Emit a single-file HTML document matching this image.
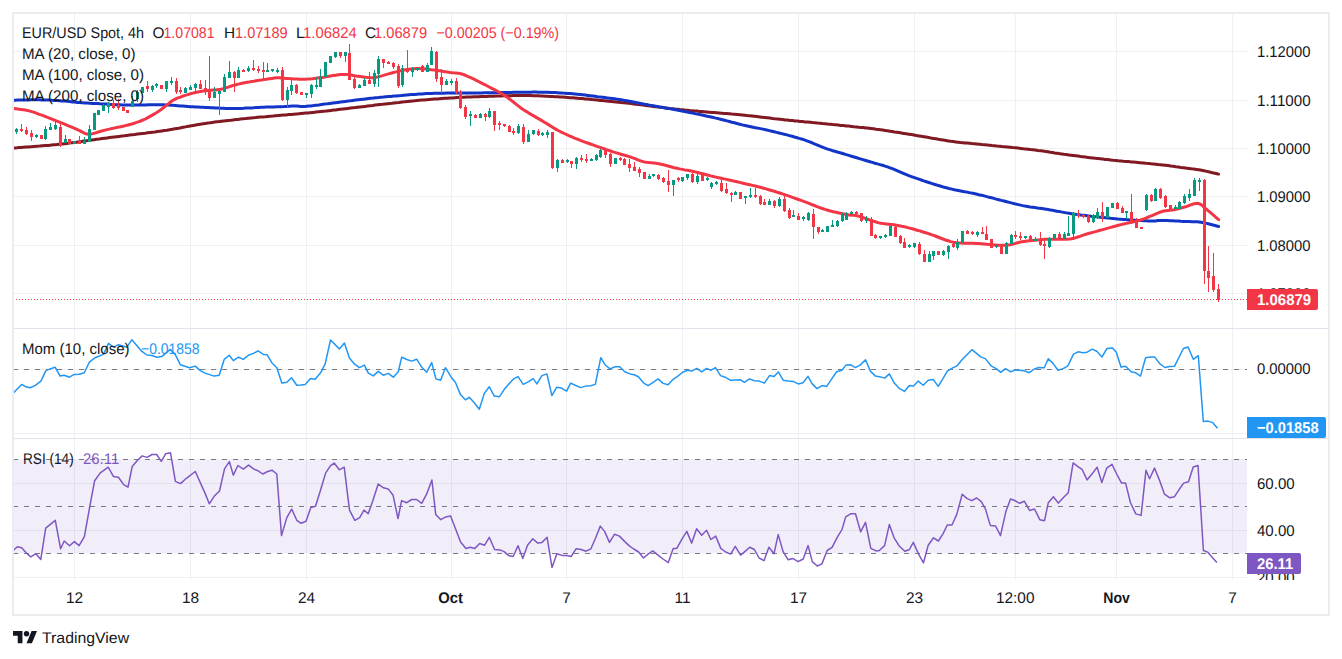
<!DOCTYPE html><html><head><meta charset="utf-8"><style>html,body{margin:0;padding:0;background:#fff;width:1342px;height:659px;overflow:hidden}svg{display:block}text{font-family:"Liberation Sans",sans-serif;text-rendering:geometricPrecision}</style></head><body>
<svg width="1342" height="659" viewBox="0 0 1342 659">
<rect width="1342" height="659" fill="#fff"/>
<path d="M74.5 14V580 M190.5 14V580 M306.5 14V580 M451.5 14V580 M566.5 14V580 M682.5 14V580 M798.5 14V580 M914.5 14V580 M1015.5 14V580 M1116.5 14V580 M1232.5 14V580 M14 51.5H1247 M14 100.5H1247 M14 148.5H1247 M14 196.5H1247 M14 245.5H1247 M14 293.5H1247 M14 369.5H1247 M14 433.5H1247 M14 483.5H1247 M14 530.5H1247 M14 577.5H1247" stroke="#eef0f2" stroke-width="1" fill="none"/>
<rect x="14" y="459" width="1233" height="94.5" fill="#7e57c2" fill-opacity="0.1"/>
<path d="M13 459.5H1247M13 506.5H1247M13 553.5H1247M13 369.5H1247" stroke="#787b86" stroke-width="1" stroke-dasharray="5 6"/>
<polyline points="13.3,393.1 21.7,384.4 25.9,386.8 30.0,387.8 35.0,385.6 40.9,381.1 45.9,370.6 50.1,368.9 55.1,367.2 60.1,376.1 64.3,375.2 69.3,377.2 74.3,374.4 79.3,374.2 84.3,372.7 89.3,362.2 95.1,357.7 103.5,354.4 108.5,343.4 113.5,347.2 118.5,344.7 126.9,347.2 131.9,339.7 141.9,351.4 146.9,355.0 151.9,355.5 156.9,357.2 161.9,356.4 170.3,349.4 175.3,354.7 180.3,364.7 189.5,367.7 195.3,366.1 200.3,370.6 205.0,373.1 214.2,376.1 219.2,375.2 224.2,359.4 229.2,355.2 233.4,360.6 238.4,357.2 243.4,359.4 248.4,355.2 253.4,353.4 258.1,350.9 263.4,354.4 267.1,354.7 271.8,362.7 276.8,367.7 281.8,383.1 286.8,382.3 291.5,377.7 296.8,385.3 301.0,385.1 305.2,384.4 310.5,378.4 315.2,379.3 321.0,372.2 325.2,363.9 330.5,340.0 339.4,348.9 344.4,343.0 349.4,358.0 354.4,363.9 359.4,367.7 364.4,365.1 368.3,373.1 373.3,375.9 378.3,371.4 383.3,375.2 388.3,373.4 393.3,377.2 398.3,371.7 401.7,357.2 407.5,359.7 411.7,361.1 416.7,359.2 421.7,367.2 426.7,372.2 431.7,362.6 435.9,378.9 440.6,380.3 445.4,367.7 450.9,376.7 455.6,382.8 460.4,394.4 465.4,399.8 469.3,397.3 474.3,402.8 479.3,409.3 484.3,393.4 489.3,386.8 494.3,396.1 499.3,396.8 504.3,389.3 509.3,383.6 513.5,378.9 518.0,376.7 523.2,384.4 528.2,381.8 533.2,378.6 536.9,383.9 541.9,375.6 546.9,373.9 551.9,395.6 556.6,387.3 561.6,388.1 566.6,391.1 570.6,383.1 575.3,385.3 580.6,387.6 585.6,386.1 590.7,385.8 595.3,384.4 600.8,357.7 605.0,364.7 610.0,368.9 615.0,366.7 619.7,366.7 624.7,371.7 630.1,373.9 634.2,374.7 638.4,376.7 643.4,382.8 648.1,385.6 653.1,382.3 658.1,378.9 663.1,383.4 668.1,384.8 673.1,379.3 677.6,376.4 682.6,372.2 687.7,370.2 691.8,371.1 696.8,368.4 701.8,371.9 706.5,368.4 711.0,370.2 715.5,367.6 720.5,375.6 725.2,377.2 730.6,380.3 735.6,380.1 740.6,379.8 744.4,382.3 749.4,378.9 754.4,380.8 759.4,381.1 764.4,383.1 769.5,375.6 774.0,376.4 778.3,371.9 783.3,380.3 788.3,381.1 793.3,381.4 798.3,383.9 803.0,382.8 808.0,376.4 812.0,383.6 817.0,388.6 822.1,385.6 826.7,386.4 831.7,378.9 836.7,371.7 841.8,370.2 845.9,365.1 850.4,364.7 855.4,367.6 860.1,365.1 865.5,359.7 870.5,371.4 875.5,376.1 880.5,376.9 884.8,378.1 889.3,373.9 894.3,383.1 899.3,388.4 904.4,391.4 909.4,385.6 913.5,385.9 918.2,381.1 923.2,385.3 928.2,380.3 933.2,379.4 938.2,386.4 942.8,378.9 947.3,371.1 952.3,368.1 956.9,365.9 962.0,359.7 967.0,354.7 972.0,349.7 980.7,356.9 985.3,358.6 991.5,366.2 996.2,368.6 1000.8,372.3 1005.5,368.6 1010.7,371.8 1015.7,369.9 1024.1,370.8 1029.3,372.7 1034.4,369.0 1039.0,367.5 1044.2,367.7 1048.3,358.7 1053.0,363.4 1058.0,370.3 1063.2,368.6 1067.9,365.8 1073.5,354.1 1078.1,351.8 1082.8,352.8 1087.1,352.2 1092.1,349.1 1096.8,351.3 1102.0,356.9 1107.0,348.5 1112.6,347.9 1116.3,352.2 1121.0,367.1 1125.6,366.2 1131.2,371.8 1135.5,372.7 1140.5,376.1 1145.6,357.8 1150.8,356.9 1154.5,356.9 1160.1,364.0 1164.8,367.5 1169.8,366.6 1174.6,366.2 1183.4,348.5 1188.0,347.0 1193.3,359.3 1198.3,355.6 1203.3,421.5 1208.2,421.1 1212.6,422.6 1217.5,428.2" fill="none" stroke="#2196f3" stroke-width="1.5" stroke-linejoin="round"/>
<polyline points="13.2,550.5 17.4,546.7 21.7,547.8 25.9,552.6 30.8,556.9 35.9,553.7 40.8,559.4 45.7,528.2 55.3,520.3 60.6,548.8 64.2,541.0 69.5,545.8 74.4,541.6 79.1,545.6 84.4,536.7 89.7,507.0 94.6,480.8 100.3,472.9 108.2,467.2 113.5,476.6 118.4,477.2 123.7,484.6 128.0,487.2 132.2,466.6 137.5,460.2 142.2,455.9 147.1,457.4 152.0,454.5 156.7,454.5 161.3,461.3 165.6,453.8 170.5,452.8 175.4,481.4 180.5,483.6 186.4,478.3 195.3,471.5 205.0,493.1 209.3,503.8 214.6,495.7 219.5,491.0 224.6,468.7 229.4,461.7 233.3,475.1 237.9,465.5 243.3,469.1 248.6,465.1 253.9,469.1 258.1,470.8 262.8,474.0 267.7,471.5 272.0,470.2 276.8,474.0 281.5,535.6 286.8,517.6 291.7,509.1 296.8,520.3 301.1,523.3 306.0,521.2 310.8,507.6 315.5,506.3 320.8,489.3 325.7,472.9 330.4,465.9 334.2,463.0 339.3,469.8 344.2,467.2 349.5,510.1 354.8,520.3 359.7,517.6 364.0,510.1 368.2,513.8 372.9,500.6 378.2,484.0 383.5,487.8 388.2,488.9 393.1,495.3 398.0,518.6 401.6,500.6 406.8,502.7 411.7,499.5 416.6,499.5 421.7,503.3 426.6,494.2 431.9,480.0 435.7,514.4 440.8,519.7 445.7,516.9 450.6,516.1 455.7,529.3 460.6,542.0 465.9,548.4 470.1,547.3 474.8,548.4 479.7,543.5 484.6,545.2 489.3,537.3 494.6,549.5 499.9,549.9 504.1,551.6 508.4,555.4 513.1,556.5 518.0,545.8 522.8,558.4 527.5,545.2 532.8,538.8 537.7,543.1 542.0,542.4 547.1,537.3 552.0,567.5 556.9,553.7 562.0,555.4 566.8,555.4 571.1,556.5 576.0,548.8 581.1,549.5 586.0,551.2 590.9,548.8 595.5,538.2 600.3,526.1 604.6,531.4 609.5,542.4 614.6,534.2 619.4,536.1 624.8,541.6 629.0,545.6 633.7,549.0 638.6,552.0 643.5,558.0 648.1,554.1 652.8,550.9 657.7,554.8 663.0,559.0 668.3,562.6 673.2,548.4 676.8,548.4 682.1,538.8 686.8,531.4 691.7,543.1 696.6,528.8 701.7,535.2 706.6,530.3 710.8,539.5 715.7,536.1 720.8,548.4 725.7,552.0 730.6,554.1 735.3,546.3 740.6,555.2 744.8,551.6 749.7,547.3 754.4,549.5 759.1,558.0 764.0,560.7 768.9,547.3 774.0,553.7 778.2,534.6 783.1,551.6 788.0,559.7 793.2,558.6 798.1,561.6 803.2,559.0 808.1,545.6 812.3,561.6 817.2,566.0 821.9,563.9 827.2,550.5 832.1,547.3 837.2,537.3 842.1,529.3 845.7,516.9 850.6,513.8 855.5,513.8 860.6,531.8 865.5,522.3 870.8,548.4 876.1,550.9 879.3,550.5 884.6,545.6 889.3,524.6 894.1,537.8 899.5,546.3 904.8,551.2 909.4,549.5 913.3,542.4 918.6,554.1 923.5,562.8 928.2,545.2 933.5,537.8 938.4,541.0 943.0,533.9 947.3,525.0 952.0,525.0 956.8,514.4 962.2,494.2 966.8,498.4 971.7,500.6 976.6,498.0 981.3,501.6 985.5,509.1 990.3,525.4 995.6,526.0 1000.5,535.6 1005.8,511.8 1010.5,499.0 1014.7,500.5 1019.6,503.3 1024.3,501.2 1029.6,510.5 1034.5,509.0 1039.8,519.7 1044.5,520.7 1048.3,502.7 1053.4,496.7 1058.3,503.1 1063.2,497.8 1068.3,492.7 1073.1,462.9 1078.0,466.6 1082.3,469.7 1087.0,479.9 1092.3,473.6 1097.1,467.2 1101.8,482.5 1106.7,468.2 1112.0,464.4 1116.7,474.0 1121.4,482.9 1125.6,483.1 1130.5,502.7 1135.8,513.9 1141.1,515.4 1146.0,470.2 1149.6,478.7 1154.5,468.1 1159.6,480.4 1164.5,494.2 1169.8,497.8 1174.5,496.7 1179.3,489.3 1183.6,483.1 1188.5,481.8 1193.2,467.0 1198.0,465.5 1203.4,550.5 1207.6,552.1 1212.3,557.5 1216.9,562.6" fill="none" stroke="#7e57c2" stroke-width="1.5" stroke-linejoin="round"/>
<polyline points="14.0,148.0 15.4,147.9 17.1,147.8 19.0,147.6 21.1,147.5 23.3,147.3 25.8,147.1 28.4,146.9 31.1,146.7 33.9,146.5 36.8,146.3 39.7,146.1 42.6,145.8 45.6,145.6 48.5,145.4 51.4,145.1 54.2,144.8 56.9,144.6 59.5,144.3 62.0,144.0 64.5,143.7 66.9,143.4 69.4,143.1 71.8,142.8 74.2,142.5 76.6,142.2 79.0,141.8 81.4,141.5 83.9,141.1 86.3,140.8 88.8,140.4 91.4,140.1 94.0,139.7 96.6,139.3 99.4,139.0 102.1,138.6 105.0,138.2 107.2,137.9 109.5,137.6 111.8,137.3 114.3,137.0 116.7,136.7 119.2,136.4 121.7,136.1 124.3,135.8 126.9,135.4 129.5,135.1 132.1,134.8 134.8,134.5 137.4,134.1 140.0,133.8 142.6,133.5 145.1,133.2 147.7,132.8 150.2,132.5 152.6,132.2 155.0,131.9 157.4,131.5 159.7,131.2 161.9,130.9 164.0,130.6 166.9,130.2 169.7,129.7 172.3,129.3 174.9,128.8 177.4,128.4 179.8,128.0 182.1,127.5 184.4,127.1 186.7,126.6 189.0,126.2 191.3,125.8 193.5,125.4 195.8,125.0 198.2,124.6 200.5,124.2 203.0,123.8 205.5,123.4 207.8,123.1 210.1,122.8 212.3,122.4 214.6,122.1 216.9,121.8 219.1,121.6 221.4,121.3 223.7,121.0 226.0,120.7 228.4,120.4 230.8,120.2 233.1,119.9 235.6,119.6 238.0,119.4 240.6,119.1 243.1,118.8 245.7,118.6 248.4,118.3 251.1,118.0 253.3,117.8 255.6,117.6 258.0,117.3 260.4,117.1 262.8,116.9 265.3,116.7 267.9,116.4 270.4,116.2 273.0,116.0 275.6,115.7 278.2,115.5 280.9,115.3 283.5,115.1 286.1,114.9 288.7,114.6 291.2,114.4 293.8,114.2 296.3,114.0 298.7,113.8 301.1,113.5 303.4,113.3 305.7,113.1 307.9,112.9 310.0,112.7 313.0,112.4 315.9,112.1 318.7,111.8 321.3,111.5 323.8,111.2 326.3,111.0 328.7,110.7 331.1,110.4 333.4,110.1 335.7,109.9 338.1,109.6 340.4,109.3 342.9,109.0 345.3,108.7 347.9,108.4 350.5,108.1 352.8,107.8 355.2,107.6 357.6,107.3 360.0,107.0 362.5,106.7 365.0,106.4 367.6,106.1 370.1,105.8 372.7,105.5 375.2,105.1 377.7,104.8 380.2,104.5 382.6,104.3 385.1,104.0 387.4,103.7 389.7,103.4 391.9,103.2 394.1,102.9 396.1,102.7 399.2,102.4 402.1,102.0 404.8,101.8 407.4,101.5 409.9,101.2 412.4,101.0 414.7,100.8 417.1,100.5 419.4,100.3 421.7,100.1 424.1,99.9 426.5,99.7 429.2,99.5 431.8,99.3 434.3,99.1 436.9,98.9 439.4,98.7 442.0,98.5 444.5,98.3 447.1,98.2 449.7,98.0 452.3,97.9 455.0,97.7 457.3,97.6 459.6,97.5 461.9,97.3 464.3,97.2 466.6,97.1 469.0,97.0 471.4,96.9 473.8,96.8 476.3,96.7 478.8,96.7 481.3,96.6 483.8,96.5 486.4,96.4 488.7,96.3 491.1,96.2 493.5,96.2 496.0,96.1 498.5,96.0 501.0,95.9 503.6,95.8 506.1,95.8 508.7,95.7 511.2,95.7 513.6,95.6 516.0,95.6 518.4,95.5 520.6,95.5 522.8,95.5 525.6,95.5 528.3,95.5 530.9,95.6 533.4,95.7 535.8,95.7 538.2,95.8 540.6,95.9 542.9,96.0 545.3,96.2 547.7,96.3 550.1,96.4 552.6,96.5 555.1,96.7 557.7,96.8 560.2,97.0 562.8,97.1 565.3,97.3 567.8,97.5 570.3,97.7 572.7,97.8 575.1,98.0 577.4,98.2 580.1,98.4 582.6,98.6 585.0,98.9 587.3,99.1 589.6,99.3 592.0,99.6 594.5,99.8 597.1,100.1 600.0,100.4 602.1,100.6 604.3,100.8 606.5,101.0 608.8,101.3 611.2,101.5 613.6,101.7 616.1,102.0 618.6,102.2 621.1,102.5 623.6,102.7 626.2,103.0 628.8,103.3 631.4,103.6 633.7,103.9 636.0,104.2 638.4,104.4 640.7,104.8 643.2,105.1 645.6,105.4 648.1,105.7 650.5,106.0 653.0,106.4 655.5,106.7 658.0,107.0 660.4,107.3 662.9,107.6 665.4,107.9 667.8,108.2 670.2,108.5 672.7,108.7 675.1,109.0 677.5,109.2 680.0,109.5 682.4,109.7 684.8,110.0 687.3,110.2 689.7,110.5 692.1,110.7 694.5,110.9 697.0,111.1 699.4,111.4 701.8,111.6 704.2,111.8 706.8,112.0 709.3,112.2 711.8,112.4 714.3,112.6 716.8,112.8 719.2,113.0 721.7,113.2 724.2,113.4 726.7,113.5 729.3,113.7 731.9,114.0 734.5,114.2 737.2,114.4 740.0,114.7 742.3,114.9 744.7,115.2 747.1,115.5 749.5,115.7 752.0,116.0 754.5,116.3 757.0,116.6 759.6,116.9 762.1,117.2 764.7,117.5 767.2,117.8 769.8,118.1 772.4,118.5 774.9,118.8 777.5,119.0 780.0,119.3 782.5,119.6 785.0,119.9 787.5,120.1 790.0,120.4 792.5,120.6 795.0,120.9 797.5,121.1 800.0,121.4 802.5,121.6 805.0,121.9 807.5,122.1 810.0,122.3 812.5,122.6 815.0,122.8 817.5,123.1 820.0,123.3 822.5,123.6 825.0,123.8 827.5,124.1 830.1,124.3 832.8,124.6 835.4,124.8 838.1,125.1 840.8,125.4 843.5,125.6 846.2,125.9 848.8,126.1 851.4,126.4 854.0,126.7 856.5,126.9 858.9,127.2 861.2,127.4 863.4,127.6 865.5,127.9 867.5,128.1 870.8,128.5 873.7,128.8 876.2,129.2 878.5,129.5 880.6,129.8 882.8,130.1 884.9,130.4 887.3,130.8 890.0,131.2 892.2,131.5 894.4,131.9 896.7,132.2 899.0,132.6 901.4,133.0 903.8,133.4 906.3,133.8 908.8,134.2 911.3,134.6 913.9,135.0 916.5,135.5 919.1,135.9 921.4,136.3 923.7,136.7 926.1,137.1 928.5,137.5 930.9,138.0 933.4,138.4 935.9,138.8 938.4,139.3 940.9,139.7 943.4,140.1 945.9,140.5 948.4,140.9 950.8,141.3 953.3,141.6 955.7,141.9 958.1,142.2 960.4,142.5 962.7,142.7 964.9,142.9 967.2,143.1 969.5,143.3 971.8,143.6 974.2,143.8 976.7,144.0 979.2,144.2 981.8,144.5 984.5,144.7 987.4,145.0 989.6,145.2 991.9,145.5 994.3,145.7 996.8,146.0 999.4,146.2 1002.0,146.5 1004.6,146.7 1007.3,147.0 1010.0,147.3 1012.7,147.6 1015.4,147.8 1018.1,148.1 1020.7,148.4 1023.3,148.7 1025.8,148.9 1028.2,149.2 1030.6,149.5 1032.9,149.7 1035.0,150.0 1037.9,150.4 1040.7,150.7 1043.2,151.1 1045.7,151.4 1048.0,151.8 1050.3,152.2 1052.5,152.5 1054.7,152.9 1056.9,153.2 1059.1,153.6 1061.5,153.9 1063.9,154.3 1066.4,154.6 1068.7,154.9 1071.0,155.2 1073.3,155.5 1075.7,155.8 1078.1,156.1 1080.6,156.5 1083.0,156.8 1085.5,157.1 1087.9,157.4 1090.4,157.7 1092.9,158.0 1095.4,158.3 1097.9,158.5 1100.3,158.8 1102.8,159.1 1105.3,159.4 1107.8,159.6 1110.4,159.9 1113.0,160.2 1115.7,160.4 1118.3,160.7 1120.9,160.9 1123.5,161.2 1126.1,161.4 1128.6,161.6 1131.1,161.9 1133.5,162.1 1135.8,162.3 1137.9,162.5 1140.0,162.7 1143.2,163.0 1146.0,163.3 1148.7,163.5 1151.1,163.8 1153.5,164.0 1155.7,164.2 1158.0,164.5 1160.3,164.7 1162.8,165.0 1165.4,165.3 1168.0,165.6 1170.7,166.0 1173.3,166.3 1175.9,166.7 1178.5,167.0 1181.0,167.4 1183.4,167.7 1185.6,168.0 1188.6,168.4 1191.4,168.8 1193.9,169.1 1196.4,169.4 1198.9,169.8 1201.5,170.3 1204.0,170.8 1206.8,171.4 1209.6,172.0 1212.4,172.7 1214.9,173.2 1217.0,173.7 1218.6,174.1" fill="none" stroke="#801922" stroke-width="3" stroke-linejoin="round" stroke-linecap="round"/>
<polyline points="14.0,100.2 15.5,100.2 17.5,100.1 19.9,100.0 22.6,100.0 25.4,99.9 28.4,99.9 31.3,99.8 34.1,99.8 36.8,99.8 39.3,99.8 41.8,99.9 44.4,100.0 46.9,100.0 49.4,100.1 51.9,100.3 54.5,100.4 57.0,100.5 59.5,100.7 62.0,100.9 64.6,101.1 67.1,101.3 69.6,101.6 72.2,101.9 74.7,102.1 77.2,102.4 79.8,102.6 82.3,102.8 84.8,103.0 87.3,103.1 89.9,103.3 92.4,103.4 94.9,103.5 97.4,103.6 99.9,103.8 102.5,103.9 105.0,104.0 107.5,104.1 109.9,104.3 112.3,104.4 114.7,104.6 117.1,104.7 119.6,104.8 122.2,105.0 125.0,105.0 127.9,105.1 130.1,105.1 132.5,105.1 135.0,105.1 137.7,105.0 140.3,105.0 143.1,104.9 145.8,104.9 148.5,104.8 151.1,104.8 153.6,104.7 155.9,104.7 158.1,104.7 160.0,104.7 163.5,104.8 166.3,104.9 168.7,105.0 170.8,105.2 172.9,105.3 175.2,105.5 177.7,105.7 180.3,105.9 182.8,106.1 185.3,106.3 187.9,106.5 190.4,106.7 192.9,106.8 195.4,107.0 198.0,107.1 200.5,107.2 203.0,107.3 205.5,107.4 208.0,107.5 210.6,107.7 213.1,107.8 215.6,108.0 218.2,108.1 220.7,108.2 223.2,108.3 225.8,108.4 228.3,108.4 230.8,108.5 233.4,108.5 235.9,108.5 238.4,108.5 241.0,108.4 243.5,108.3 246.0,108.1 248.6,108.0 251.1,107.9 253.6,107.8 256.2,107.6 258.7,107.5 261.2,107.3 263.8,107.2 266.3,107.1 268.8,107.0 271.4,107.0 273.9,106.9 276.4,106.8 279.0,106.8 281.5,106.7 284.1,106.6 286.8,106.4 289.5,106.2 292.1,106.1 294.5,106.0 296.6,105.9 299.1,106.2 300.8,106.6 305.0,106.5 306.8,106.3 308.8,106.1 311.1,105.9 313.5,105.6 316.1,105.2 318.8,104.9 321.6,104.5 324.5,104.1 327.3,103.8 330.1,103.4 332.8,103.0 335.4,102.7 337.9,102.4 340.5,102.1 343.0,101.7 345.5,101.4 348.0,101.1 350.5,100.8 353.1,100.4 355.6,100.1 358.1,99.8 360.6,99.5 363.2,99.2 365.7,98.9 368.2,98.6 370.8,98.3 373.3,98.1 375.8,97.8 378.4,97.6 380.9,97.3 383.4,97.1 386.0,96.8 388.5,96.6 391.0,96.4 393.6,96.1 396.1,95.9 398.7,95.7 401.2,95.5 403.9,95.2 406.5,95.0 409.1,94.8 411.7,94.6 414.3,94.4 416.9,94.2 419.4,94.0 421.8,93.9 424.2,93.7 426.5,93.6 429.3,93.5 431.9,93.4 434.4,93.3 436.7,93.2 439.0,93.2 441.5,93.2 444.0,93.2 446.9,93.1 450.0,93.1 452.1,93.1 454.2,93.1 456.5,93.0 458.8,93.0 461.2,93.0 463.6,93.0 466.1,93.0 468.7,92.9 471.2,92.9 473.8,92.9 476.4,92.9 478.9,92.9 481.4,92.9 483.9,92.8 486.4,92.8 488.8,92.8 491.3,92.7 493.8,92.7 496.3,92.6 498.9,92.6 501.4,92.5 503.9,92.5 506.4,92.4 508.9,92.4 511.3,92.4 513.7,92.3 516.1,92.3 518.4,92.2 520.6,92.2 522.8,92.2 525.6,92.2 528.3,92.2 530.9,92.2 533.4,92.1 535.8,92.1 538.2,92.2 540.6,92.2 542.9,92.2 545.3,92.3 547.7,92.3 550.1,92.4 552.6,92.5 555.1,92.6 557.7,92.7 560.2,92.9 562.8,93.1 565.3,93.2 567.8,93.4 570.3,93.6 572.7,93.8 575.1,94.0 577.4,94.2 580.1,94.5 582.7,94.8 585.3,95.1 587.8,95.4 590.2,95.7 592.7,96.0 595.1,96.3 597.5,96.7 600.0,97.0 602.5,97.3 604.9,97.6 607.3,97.9 609.7,98.2 612.1,98.5 614.5,98.8 617.0,99.2 619.6,99.6 622.3,100.0 624.6,100.4 627.0,100.8 629.4,101.2 631.9,101.7 634.4,102.2 636.9,102.7 639.5,103.2 642.0,103.7 644.6,104.2 647.1,104.6 649.6,105.1 652.1,105.6 654.6,106.0 657.0,106.4 659.5,106.9 662.0,107.3 664.5,107.7 667.0,108.2 669.5,108.6 671.9,109.1 674.4,109.5 676.9,110.0 679.4,110.5 682.0,111.0 684.6,111.5 687.2,112.0 689.8,112.5 692.4,113.1 694.9,113.6 697.4,114.1 699.8,114.6 702.1,115.0 704.2,115.5 707.2,116.2 709.9,116.7 712.4,117.3 714.8,117.9 717.1,118.4 719.6,119.0 722.4,119.7 724.7,120.3 727.0,120.9 729.4,121.5 731.9,122.2 734.4,122.8 737.0,123.5 739.6,124.2 742.3,124.9 745.0,125.5 747.3,126.0 749.6,126.5 751.9,127.0 754.3,127.5 756.7,127.9 759.1,128.4 761.6,128.9 764.1,129.4 766.7,130.0 769.3,130.6 771.9,131.2 774.2,131.8 776.6,132.4 779.1,133.0 781.7,133.6 784.3,134.3 786.9,134.9 789.4,135.6 792.0,136.3 794.5,137.0 797.0,137.7 799.3,138.4 801.6,139.0 803.7,139.7 806.9,140.8 809.8,141.9 812.5,143.0 815.0,144.1 817.5,145.2 819.9,146.2 822.4,147.2 825.0,148.2 827.7,149.1 830.3,149.9 833.0,150.8 835.6,151.5 838.2,152.3 840.9,153.0 843.5,153.8 846.2,154.6 848.8,155.4 851.5,156.2 854.1,157.0 856.8,157.8 859.4,158.6 862.1,159.4 864.8,160.2 867.5,161.0 869.9,161.7 872.4,162.4 874.9,163.2 877.4,163.9 879.9,164.6 882.5,165.3 885.0,166.1 887.5,166.9 890.0,167.8 892.4,168.7 894.7,169.6 897.0,170.6 899.3,171.6 901.6,172.6 904.0,173.6 906.5,174.7 909.3,175.8 912.3,176.9 914.4,177.6 916.6,178.4 918.9,179.2 921.3,180.0 923.8,180.9 926.4,181.7 928.9,182.5 931.5,183.4 934.1,184.2 936.7,185.0 939.3,185.7 941.8,186.5 944.2,187.2 946.5,187.8 949.1,188.5 951.8,189.1 954.4,189.7 957.0,190.2 959.5,190.7 962.0,191.2 964.5,191.7 966.9,192.1 969.3,192.6 971.6,193.1 973.9,193.5 976.1,194.0 978.9,194.7 981.6,195.3 984.2,195.9 986.7,196.6 989.1,197.2 991.5,197.8 993.9,198.4 996.3,199.1 998.8,199.7 1001.4,200.4 1004.0,201.0 1006.7,201.7 1009.4,202.4 1012.1,203.1 1014.7,203.8 1017.2,204.4 1019.5,204.9 1021.6,205.4 1024.9,206.1 1027.6,206.5 1030.1,206.9 1032.5,207.2 1035.0,207.6 1037.4,208.0 1039.6,208.3 1041.9,208.6 1044.7,209.0 1048.2,209.6 1050.2,209.9 1052.3,210.3 1054.6,210.7 1057.1,211.2 1059.7,211.6 1062.3,212.1 1065.0,212.6 1067.7,213.1 1070.3,213.5 1073.0,213.9 1075.5,214.3 1078.0,214.6 1080.6,215.0 1083.2,215.3 1085.8,215.6 1088.4,215.9 1091.0,216.2 1093.5,216.4 1096.0,216.7 1098.4,216.9 1100.7,217.2 1102.8,217.4 1105.8,217.7 1108.3,218.0 1110.7,218.3 1112.9,218.5 1115.3,218.7 1117.9,219.0 1121.0,219.2 1123.1,219.4 1125.4,219.5 1127.9,219.7 1130.5,219.9 1133.1,220.1 1135.8,220.2 1138.5,220.4 1141.1,220.6 1143.6,220.7 1146.0,220.8 1148.1,220.9 1150.0,221.0 1153.4,221.0 1155.8,220.9 1157.7,220.6 1159.9,220.4 1162.8,220.4 1164.9,220.5 1167.4,220.5 1170.0,220.7 1172.8,220.8 1175.5,221.0 1178.3,221.1 1181.0,221.3 1183.4,221.4 1185.6,221.5 1189.0,221.6 1191.9,221.7 1194.5,221.7 1196.9,221.8 1199.2,222.0 1202.5,222.5 1205.3,223.1 1208.3,223.8 1211.0,224.5 1214.0,225.3 1216.7,226.0 1218.6,226.5" fill="none" stroke="#1235c8" stroke-width="3" stroke-linejoin="round" stroke-linecap="round"/>
<polyline points="14.0,108.6 15.7,108.8 17.9,109.1 20.7,109.4 23.6,109.8 26.5,110.3 29.2,110.9 31.7,111.6 34.3,112.4 36.8,113.3 39.3,114.3 41.9,115.2 44.4,116.2 46.9,117.2 49.4,118.1 52.0,119.2 54.5,120.2 57.0,121.2 59.5,122.2 62.1,123.2 64.7,124.2 67.3,125.3 69.9,126.3 72.3,127.3 74.7,128.3 77.4,129.6 80.1,130.9 82.6,132.2 84.9,133.3 86.9,134.1 90.0,134.4 93.0,133.6 94.8,133.1 96.9,132.5 99.1,131.8 101.8,131.0 105.0,130.1 107.1,129.6 109.5,129.1 112.1,128.5 114.9,127.9 117.7,127.3 120.4,126.8 123.1,126.2 125.6,125.6 127.9,125.0 130.9,124.2 133.5,123.5 135.9,122.7 138.2,121.9 140.6,121.0 143.0,120.0 145.6,118.8 148.3,117.4 151.0,115.9 153.6,114.4 156.0,113.0 158.2,111.6 161.8,109.0 164.8,106.6 167.6,104.4 170.0,102.5 172.2,100.8 175.2,99.1 177.3,98.2 179.7,97.3 182.3,96.3 185.1,95.4 187.8,94.6 190.4,93.8 192.9,93.1 195.4,92.5 198.0,92.0 200.5,91.5 203.0,91.1 205.5,90.7 208.0,90.4 210.6,90.2 213.1,90.0 215.6,89.9 218.2,89.6 220.7,89.2 223.2,88.6 225.8,87.9 228.3,87.1 230.8,86.2 233.4,85.4 235.9,84.7 238.4,84.1 241.0,83.5 243.5,83.0 246.0,82.5 248.6,82.1 251.1,81.6 253.7,81.2 256.3,80.7 259.0,80.3 261.6,80.0 264.0,79.6 266.3,79.3 269.2,78.8 271.8,78.4 274.3,78.0 276.9,77.8 279.2,77.8 281.4,78.0 283.8,78.2 286.3,78.4 289.0,78.6 291.5,78.7 294.1,78.9 296.8,79.0 299.6,79.2 302.3,79.2 305.0,79.2 307.5,79.1 309.8,78.9 312.2,78.7 314.6,78.4 317.2,78.1 320.2,77.7 322.4,77.4 324.9,77.0 327.5,76.5 330.2,76.1 333.0,75.6 335.7,75.2 338.3,74.8 340.8,74.6 343.0,74.4 346.0,74.4 348.6,74.6 351.0,75.0 353.3,75.4 355.7,75.9 358.1,76.2 360.6,76.5 363.2,76.9 365.7,77.3 368.2,77.6 370.8,77.8 373.3,77.7 375.8,77.4 378.4,76.8 380.9,76.1 383.4,75.4 386.0,74.6 388.5,73.9 391.0,73.2 393.6,72.5 396.1,71.9 398.6,71.2 401.2,70.6 403.7,70.1 406.2,69.7 408.8,69.3 411.3,69.0 413.8,68.8 416.4,68.6 418.9,68.6 421.4,68.7 423.9,68.8 426.4,69.1 428.9,69.4 431.4,69.8 434.0,70.1 436.7,70.4 439.5,70.8 442.3,71.3 445.0,71.7 447.6,72.1 450.0,72.4 453.1,72.7 455.8,72.9 458.3,73.2 460.9,73.7 463.5,74.5 466.1,75.6 468.8,76.8 471.8,78.2 474.0,79.2 476.3,80.3 478.6,81.5 481.1,82.8 483.7,84.1 486.4,85.5 488.8,86.8 491.3,88.1 493.9,89.4 496.6,90.8 499.3,92.3 502.0,93.9 504.6,95.5 507.2,97.3 509.8,99.2 512.4,101.3 515.0,103.3 517.6,105.4 520.2,107.4 522.8,109.2 525.4,110.9 528.0,112.5 530.6,114.1 533.2,115.6 535.8,117.1 538.4,118.6 541.0,120.1 543.6,121.7 546.2,123.3 548.8,124.9 551.4,126.5 554.0,128.1 556.6,129.6 559.2,131.0 561.8,132.3 564.3,133.5 566.8,134.7 569.3,135.8 571.9,136.9 574.6,138.1 577.4,139.2 579.8,140.1 582.3,141.1 585.0,142.1 587.7,143.0 590.4,144.0 593.0,144.9 595.5,145.8 597.9,146.7 600.0,147.4 603.2,148.5 605.7,149.4 608.0,150.2 610.4,151.0 613.2,151.9 615.6,152.6 618.2,153.4 620.9,154.2 623.7,155.0 626.4,155.8 629.0,156.6 631.4,157.3 634.3,158.3 636.8,159.3 639.2,160.3 641.6,161.2 644.2,161.9 646.5,162.3 648.8,162.6 651.1,162.8 653.5,163.0 656.0,163.3 658.7,163.7 661.1,164.2 663.6,164.8 666.2,165.5 668.9,166.3 671.6,167.0 674.3,167.7 676.9,168.3 679.5,168.9 682.1,169.4 684.7,169.9 687.3,170.3 689.9,170.8 692.5,171.3 695.1,171.9 697.7,172.5 700.3,173.2 702.9,173.8 705.5,174.5 708.1,175.2 710.7,175.9 713.3,176.5 715.9,177.1 718.6,177.7 721.3,178.3 724.0,178.9 726.6,179.4 729.1,180.0 731.5,180.5 734.5,181.2 737.1,181.8 739.6,182.4 742.2,183.0 745.0,183.7 747.5,184.3 750.0,184.8 752.6,185.4 755.3,186.0 758.2,186.7 761.2,187.5 763.6,188.2 766.2,188.9 768.8,189.7 771.5,190.5 774.3,191.3 777.1,192.2 779.8,193.0 782.5,193.9 785.2,194.8 787.8,195.7 790.5,196.6 793.1,197.6 795.7,198.5 798.4,199.5 801.0,200.4 803.7,201.4 806.4,202.4 809.0,203.4 811.7,204.5 814.4,205.5 817.0,206.6 819.7,207.6 822.3,208.5 825.0,209.4 827.7,210.2 830.5,211.0 833.3,211.7 836.1,212.3 838.9,213.0 841.5,213.5 844.0,214.0 846.2,214.5 849.2,215.0 851.6,215.2 853.8,215.3 856.2,215.6 859.0,216.2 861.4,216.9 864.0,217.8 866.8,218.8 869.6,219.9 872.5,220.9 875.4,221.8 878.1,222.6 880.8,223.2 883.5,223.6 886.1,223.9 888.8,224.2 891.4,224.5 893.9,224.8 896.4,225.2 899.2,225.7 901.8,226.3 904.4,226.8 906.9,227.4 909.5,228.1 912.3,228.8 914.7,229.5 917.2,230.2 919.7,230.9 922.3,231.7 924.9,232.5 927.6,233.4 930.5,234.3 932.8,235.1 935.3,236.0 937.8,237.0 940.3,238.0 942.9,239.0 945.5,240.0 948.1,240.8 950.7,241.6 953.3,242.2 955.8,242.6 958.4,242.9 960.9,243.1 963.4,243.2 966.0,243.2 968.5,243.2 971.0,243.2 973.6,243.3 976.1,243.4 978.7,243.6 981.4,243.8 984.1,244.0 986.8,244.3 989.5,244.5 992.1,244.7 994.5,244.9 996.8,245.1 998.8,245.2 1002.4,245.3 1005.2,245.2 1007.6,245.0 1010.2,244.7 1013.0,244.1 1015.8,243.3 1018.6,242.5 1021.6,241.8 1024.2,241.4 1026.8,241.0 1029.6,240.7 1032.3,240.5 1035.0,240.2 1037.6,239.9 1040.1,239.7 1042.6,239.5 1045.2,239.3 1048.2,239.2 1050.6,239.2 1053.4,239.2 1056.2,239.2 1059.1,239.2 1061.8,239.2 1064.3,239.2 1066.4,239.2 1069.5,239.1 1071.4,238.8 1073.7,238.3 1076.0,237.6 1078.5,236.8 1081.3,235.8 1084.6,234.7 1086.8,234.0 1089.3,233.3 1091.9,232.6 1094.6,231.9 1097.4,231.1 1100.1,230.3 1102.8,229.6 1105.4,228.9 1108.0,228.1 1110.6,227.4 1113.2,226.7 1115.8,226.0 1118.4,225.3 1121.0,224.6 1123.7,224.0 1126.4,223.4 1129.1,222.8 1131.8,222.2 1134.4,221.6 1136.9,221.0 1139.2,220.4 1142.0,219.5 1144.6,218.6 1146.9,217.7 1149.1,216.7 1151.4,215.8 1154.3,214.6 1157.2,213.4 1160.0,212.2 1162.8,211.3 1165.6,210.7 1168.5,210.4 1171.3,210.1 1174.2,209.7 1177.0,209.1 1179.8,208.3 1182.7,207.5 1185.6,206.7 1188.1,205.9 1190.7,204.9 1193.4,204.0 1195.9,203.4 1198.1,203.3 1201.1,204.5 1203.7,206.8 1206.1,209.0 1209.6,211.9 1212.9,214.7 1216.2,217.6 1218.6,219.7" fill="none" stroke="#f23645" stroke-width="3" stroke-linejoin="round" stroke-linecap="round"/>
<path d="M16 128h1V134h-1Z M15 129h3V132h-3Z M36 134h1V138h-1Z M35 135h3V137h-3Z M45 126h1V140h-1Z M44 129h3V139h-3Z M50 123h1V130h-1Z M49 127h3V130h-3Z M55 121h1V130h-1Z M54 125h3V129h-3Z M65 135h1V143h-1Z M64 139h3V143h-3Z M74 141h1V144h-1Z M73 141h3V144h-3Z M84 137h1V144h-1Z M83 141h3V144h-3Z M89 125h1V142h-1Z M88 129h3V142h-3Z M94 113h1V130h-1Z M93 113h3V130h-3Z M98 110h1V115h-1Z M97 110h3V115h-3Z M103 104h1V111h-1Z M102 105h3V111h-3Z M108 102h1V113h-1Z M107 103h3V107h-3Z M132 96h1V107h-1Z M131 101h3V107h-3Z M137 90h1V102h-1Z M136 92h3V99h-3Z M142 87h1V93h-1Z M141 87h3V93h-3Z M152 85h1V92h-1Z M151 86h3V90h-3Z M156 83h1V88h-1Z M155 84h3V86h-3Z M166 81h1V92h-1Z M165 81h3V89h-3Z M171 77h1V85h-1Z M170 81h3V83h-3Z M185 87h1V93h-1Z M184 88h3V93h-3Z M190 85h1V90h-1Z M189 87h3V90h-3Z M195 83h1V92h-1Z M194 84h3V88h-3Z M214 87h1V98h-1Z M213 92h3V98h-3Z M219 90h1V115h-1Z M218 91h3V94h-3Z M224 74h1V92h-1Z M223 77h3V92h-3Z M229 61h1V78h-1Z M228 72h3V78h-3Z M238 67h1V78h-1Z M237 70h3V78h-3Z M248 66h1V72h-1Z M247 68h3V71h-3Z M267 63h1V72h-1Z M266 70h3V72h-3Z M272 69h1V72h-1Z M271 69h3V71h-3Z M277 68h1V73h-1Z M276 70h3V72h-3Z M287 87h1V108h-1Z M286 90h3V100h-3Z M291 79h1V95h-1Z M290 85h3V91h-3Z M306 93h1V98h-1Z M305 93h3V95h-3Z M311 84h1V98h-1Z M310 85h3V94h-3Z M316 77h1V89h-1Z M315 85h3V87h-3Z M320 69h1V87h-1Z M319 76h3V87h-3Z M325 62h1V77h-1Z M324 62h3V77h-3Z M330 56h1V63h-1Z M329 56h3V63h-3Z M335 52h1V58h-1Z M334 52h3V57h-3Z M345 52h1V62h-1Z M344 52h3V56h-3Z M359 84h1V88h-1Z M358 85h3V88h-3Z M364 78h1V86h-1Z M363 80h3V86h-3Z M374 70h1V87h-1Z M373 73h3V84h-3Z M378 56h1V87h-1Z M377 59h3V74h-3Z M402 65h1V87h-1Z M401 68h3V85h-3Z M412 67h1V77h-1Z M411 68h3V72h-3Z M417 67h1V71h-1Z M416 68h3V70h-3Z M427 63h1V72h-1Z M426 65h3V72h-3Z M431 47h1V65h-1Z M430 51h3V65h-3Z M446 79h1V85h-1Z M445 81h3V85h-3Z M451 79h1V85h-1Z M450 81h3V83h-3Z M470 111h1V126h-1Z M469 114h3V116h-3Z M480 113h1V118h-1Z M479 114h3V118h-3Z M489 108h1V118h-1Z M488 111h3V117h-3Z M518 124h1V134h-1Z M517 126h3V133h-3Z M528 130h1V142h-1Z M527 134h3V142h-3Z M533 130h1V135h-1Z M532 130h3V134h-3Z M542 132h1V136h-1Z M541 133h3V135h-3Z M547 130h1V138h-1Z M546 132h3V135h-3Z M557 159h1V172h-1Z M556 160h3V168h-3Z M567 159h1V163h-1Z M566 160h3V162h-3Z M576 157h1V169h-1Z M575 158h3V164h-3Z M591 158h1V161h-1Z M590 159h3V161h-3Z M596 154h1V161h-1Z M595 155h3V160h-3Z M600 149h1V158h-1Z M599 150h3V157h-3Z M615 158h1V164h-1Z M614 158h3V164h-3Z M649 174h1V179h-1Z M648 176h3V179h-3Z M653 174h1V177h-1Z M652 174h3V176h-3Z M673 180h1V196h-1Z M672 180h3V185h-3Z M682 177h1V182h-1Z M681 177h3V181h-3Z M687 174h1V180h-1Z M686 174h3V178h-3Z M697 171h1V184h-1Z M696 176h3V182h-3Z M707 177h1V181h-1Z M706 178h3V180h-3Z M711 182h1V189h-1Z M710 183h3V187h-3Z M716 181h1V185h-1Z M715 182h3V184h-3Z M735 191h1V195h-1Z M734 192h3V195h-3Z M745 196h1V204h-1Z M744 196h3V198h-3Z M750 188h1V198h-1Z M749 195h3V197h-3Z M769 199h1V205h-1Z M768 201h3V205h-3Z M779 197h1V207h-1Z M778 199h3V206h-3Z M793 210h1V217h-1Z M792 215h3V217h-3Z M803 216h1V221h-1Z M802 217h3V219h-3Z M808 212h1V221h-1Z M807 213h3V220h-3Z M822 229h1V232h-1Z M821 230h3V232h-3Z M827 226h1V232h-1Z M826 226h3V232h-3Z M832 220h1V227h-1Z M831 225h3V227h-3Z M837 220h1V227h-1Z M836 221h3V226h-3Z M842 213h1V222h-1Z M841 214h3V221h-3Z M846 212h1V220h-1Z M845 213h3V220h-3Z M851 211h1V215h-1Z M850 212h3V214h-3Z M866 216h1V223h-1Z M865 218h3V221h-3Z M880 236h1V239h-1Z M879 236h3V238h-3Z M885 234h1V238h-1Z M884 235h3V237h-3Z M890 226h1V236h-1Z M889 226h3V236h-3Z M909 244h1V248h-1Z M908 245h3V247h-3Z M914 243h1V248h-1Z M913 243h3V247h-3Z M929 251h1V262h-1Z M928 254h3V262h-3Z M933 251h1V260h-1Z M932 251h3V256h-3Z M943 250h1V256h-1Z M942 251h3V255h-3Z M948 245h1V259h-1Z M947 246h3V252h-3Z M957 239h1V250h-1Z M956 242h3V248h-3Z M962 231h1V243h-1Z M961 231h3V243h-3Z M977 231h1V237h-1Z M976 232h3V235h-3Z M996 245h1V248h-1Z M995 245h3V247h-3Z M1006 242h1V254h-1Z M1005 243h3V254h-3Z M1011 234h1V244h-1Z M1010 235h3V244h-3Z M1025 236h1V239h-1Z M1024 236h3V238h-3Z M1035 237h1V241h-1Z M1034 239h3V241h-3Z M1049 237h1V248h-1Z M1048 238h3V247h-3Z M1054 234h1V239h-1Z M1053 234h3V239h-3Z M1064 232h1V239h-1Z M1063 234h3V239h-3Z M1068 216h1V236h-1Z M1067 233h3V236h-3Z M1073 212h1V240h-1Z M1072 213h3V234h-3Z M1093 214h1V223h-1Z M1092 215h3V222h-3Z M1097 208h1V219h-1Z M1096 212h3V218h-3Z M1107 207h1V218h-1Z M1106 207h3V218h-3Z M1112 203h1V208h-1Z M1111 203h3V208h-3Z M1126 211h1V219h-1Z M1125 211h3V213h-3Z M1146 194h1V211h-1Z M1145 195h3V210h-3Z M1155 188h1V201h-1Z M1154 189h3V201h-3Z M1175 205h1V210h-1Z M1174 207h3V209h-3Z M1179 201h1V210h-1Z M1178 202h3V209h-3Z M1184 194h1V204h-1Z M1183 196h3V203h-3Z M1189 189h1V201h-1Z M1188 194h3V198h-3Z M1194 178h1V196h-1Z M1193 180h3V196h-3Z M1199 178h1V191h-1Z M1198 180h3V182h-3Z" fill="#089981"/>
<path d="M21 124h1V132h-1Z M20 129h3V131h-3Z M26 127h1V135h-1Z M25 130h3V134h-3Z M31 130h1V141h-1Z M30 133h3V137h-3Z M41 135h1V139h-1Z M40 135h3V139h-3Z M60 124h1V147h-1Z M59 127h3V145h-3Z M69 139h1V144h-1Z M68 139h3V144h-3Z M79 136h1V144h-1Z M78 141h3V144h-3Z M113 100h1V109h-1Z M112 103h3V108h-3Z M118 99h1V110h-1Z M117 105h3V108h-3Z M123 107h1V111h-1Z M122 107h3V111h-3Z M127 110h1V113h-1Z M126 110h3V113h-3Z M147 81h1V92h-1Z M146 86h3V89h-3Z M161 85h1V89h-1Z M160 85h3V89h-3Z M176 78h1V94h-1Z M175 81h3V92h-3Z M180 87h1V94h-1Z M179 90h3V92h-3Z M200 80h1V89h-1Z M199 84h3V89h-3Z M205 80h1V95h-1Z M204 88h3V92h-3Z M209 56h1V101h-1Z M208 91h3V98h-3Z M234 71h1V92h-1Z M233 72h3V78h-3Z M243 69h1V72h-1Z M242 70h3V72h-3Z M253 60h1V71h-1Z M252 68h3V70h-3Z M258 66h1V73h-1Z M257 69h3V71h-3Z M263 62h1V80h-1Z M262 70h3V72h-3Z M282 67h1V101h-1Z M281 70h3V100h-3Z M296 84h1V94h-1Z M295 85h3V93h-3Z M301 92h1V95h-1Z M300 92h3V95h-3Z M340 52h1V58h-1Z M339 52h3V56h-3Z M349 44h1V80h-1Z M348 53h3V80h-3Z M354 77h1V89h-1Z M353 79h3V88h-3Z M369 72h1V84h-1Z M368 80h3V84h-3Z M383 59h1V68h-1Z M382 59h3V63h-3Z M388 61h1V64h-1Z M387 62h3V64h-3Z M393 62h1V69h-1Z M392 63h3V67h-3Z M398 64h1V88h-1Z M397 66h3V86h-3Z M407 50h1V73h-1Z M406 68h3V72h-3Z M422 65h1V72h-1Z M421 66h3V72h-3Z M436 51h1V82h-1Z M435 52h3V79h-3Z M441 69h1V93h-1Z M440 77h3V85h-3Z M456 78h1V94h-1Z M455 81h3V93h-3Z M460 90h1V109h-1Z M459 92h3V108h-3Z M465 105h1V119h-1Z M464 107h3V117h-3Z M475 114h1V118h-1Z M474 115h3V118h-3Z M485 113h1V121h-1Z M484 114h3V117h-3Z M494 111h1V131h-1Z M493 111h3V125h-3Z M499 121h1V130h-1Z M498 123h3V125h-3Z M504 124h1V127h-1Z M503 124h3V126h-3Z M509 125h1V132h-1Z M508 126h3V132h-3Z M513 128h1V135h-1Z M512 131h3V133h-3Z M523 124h1V144h-1Z M522 127h3V142h-3Z M538 129h1V136h-1Z M537 131h3V135h-3Z M552 132h1V169h-1Z M551 132h3V168h-3Z M562 159h1V163h-1Z M561 160h3V163h-3Z M571 161h1V168h-1Z M570 161h3V164h-3Z M581 155h1V162h-1Z M580 158h3V160h-3Z M586 154h1V163h-1Z M585 159h3V161h-3Z M605 149h1V158h-1Z M604 150h3V155h-3Z M610 153h1V167h-1Z M609 154h3V164h-3Z M620 157h1V161h-1Z M619 158h3V160h-3Z M624 158h1V165h-1Z M623 159h3V165h-3Z M629 159h1V172h-1Z M628 164h3V168h-3Z M634 162h1V171h-1Z M633 167h3V171h-3Z M639 167h1V177h-1Z M638 169h3V173h-3Z M644 172h1V179h-1Z M643 172h3V179h-3Z M658 174h1V180h-1Z M657 175h3V179h-3Z M663 177h1V183h-1Z M662 178h3V182h-3Z M668 170h1V192h-1Z M667 181h3V185h-3Z M678 177h1V182h-1Z M677 178h3V180h-3Z M692 173h1V183h-1Z M691 174h3V182h-3Z M702 174h1V181h-1Z M701 175h3V181h-3Z M721 179h1V192h-1Z M720 183h3V191h-3Z M726 183h1V194h-1Z M725 189h3V193h-3Z M731 192h1V202h-1Z M730 193h3V195h-3Z M740 192h1V199h-1Z M739 192h3V199h-3Z M755 188h1V198h-1Z M754 195h3V197h-3Z M760 195h1V205h-1Z M759 196h3V204h-3Z M764 199h1V205h-1Z M763 202h3V205h-3Z M774 200h1V208h-1Z M773 201h3V206h-3Z M784 196h1V212h-1Z M783 199h3V211h-3Z M789 208h1V219h-1Z M788 210h3V218h-3Z M798 213h1V220h-1Z M797 216h3V220h-3Z M813 209h1V239h-1Z M812 214h3V227h-3Z M818 227h1V234h-1Z M817 227h3V232h-3Z M856 211h1V215h-1Z M855 212h3V214h-3Z M861 213h1V222h-1Z M860 213h3V221h-3Z M871 217h1V236h-1Z M870 219h3V236h-3Z M875 234h1V239h-1Z M874 235h3V238h-3Z M895 226h1V237h-1Z M894 227h3V237h-3Z M900 235h1V244h-1Z M899 236h3V243h-3Z M904 238h1V248h-1Z M903 242h3V248h-3Z M919 242h1V255h-1Z M918 244h3V254h-3Z M924 250h1V262h-1Z M923 254h3V262h-3Z M938 251h1V255h-1Z M937 251h3V255h-3Z M953 243h1V248h-1Z M952 244h3V247h-3Z M967 230h1V234h-1Z M966 231h3V234h-3Z M972 231h1V235h-1Z M971 232h3V234h-3Z M982 227h1V234h-1Z M981 232h3V234h-3Z M986 226h1V240h-1Z M985 234h3V240h-3Z M991 239h1V248h-1Z M990 239h3V248h-3Z M1001 244h1V254h-1Z M1000 246h3V254h-3Z M1015 231h1V239h-1Z M1014 235h3V237h-3Z M1020 232h1V240h-1Z M1019 236h3V238h-3Z M1030 235h1V241h-1Z M1029 236h3V240h-3Z M1040 232h1V246h-1Z M1039 239h3V245h-3Z M1044 240h1V259h-1Z M1043 244h3V246h-3Z M1059 232h1V239h-1Z M1058 234h3V239h-3Z M1078 210h1V218h-1Z M1077 213h3V216h-3Z M1083 214h1V218h-1Z M1082 215h3V217h-3Z M1088 215h1V223h-1Z M1087 216h3V222h-3Z M1102 202h1V222h-1Z M1101 212h3V218h-3Z M1117 202h1V209h-1Z M1116 203h3V209h-3Z M1122 206h1V213h-1Z M1121 208h3V213h-3Z M1131 194h1V222h-1Z M1130 212h3V222h-3Z M1136 218h1V228h-1Z M1135 220h3V228h-3Z M1141 227h1V229h-1Z M1140 227h3V229h-3Z M1151 194h1V202h-1Z M1150 195h3V201h-3Z M1160 188h1V199h-1Z M1159 189h3V198h-3Z M1165 195h1V208h-1Z M1164 196h3V207h-3Z M1170 205h1V211h-1Z M1169 205h3V209h-3Z M1204 179h1V284h-1Z M1203 180h3V271h-3Z M1208 246h1V292h-1Z M1207 271h3V278h-3Z M1213 253h1V292h-1Z M1212 276h3V290h-3Z M1218 284h1V302h-1Z M1217 289h3V300h-3Z" fill="#f23645"/>
<path d="M16 299.5H1247" stroke="#f23645" stroke-width="1" stroke-dasharray="1 2"/>
<path d="M14 328.5H1328M14 438.5H1328" stroke="#e0e3eb" stroke-width="1"/>
<rect x="13" y="13" width="1316" height="602" fill="none" stroke="#ebecf0" stroke-width="2"/>
<text x="1257.00" y="56.8" font-size="15.5" fill="#131722" textLength="53.58" lengthAdjust="spacingAndGlyphs">1.12000</text>
<text x="1257.00" y="105.8" font-size="15.5" fill="#131722" textLength="53.58" lengthAdjust="spacingAndGlyphs">1.11000</text>
<text x="1257.00" y="153.8" font-size="15.5" fill="#131722" textLength="53.58" lengthAdjust="spacingAndGlyphs">1.10000</text>
<text x="1257.00" y="201.8" font-size="15.5" fill="#131722" textLength="53.58" lengthAdjust="spacingAndGlyphs">1.09000</text>
<text x="1257.00" y="250.8" font-size="15.5" fill="#131722" textLength="53.58" lengthAdjust="spacingAndGlyphs">1.08000</text>
<text x="1257.00" y="298.8" font-size="15.5" fill="#131722" textLength="53.58" lengthAdjust="spacingAndGlyphs">1.07000</text>
<text x="1257.00" y="373.9" font-size="15.5" fill="#131722" textLength="53.61" lengthAdjust="spacingAndGlyphs">0.00000</text>
<clipPath id="rc"><rect x="1247" y="439" width="80" height="141"/></clipPath><g clip-path="url(#rc)">
<text x="1257.00" y="488.8" font-size="15.5" fill="#131722" textLength="37.67" lengthAdjust="spacingAndGlyphs">60.00</text>
<text x="1257.00" y="535.8" font-size="15.5" fill="#131722" textLength="37.67" lengthAdjust="spacingAndGlyphs">40.00</text>
<text x="1257.00" y="582.8" font-size="15.5" fill="#131722" textLength="37.67" lengthAdjust="spacingAndGlyphs">20.00</text>
</g>
<text x="74.5" y="603" font-size="15.4" text-anchor="middle" fill="#131722">12</text>
<text x="190.5" y="603" font-size="15.4" text-anchor="middle" fill="#131722">18</text>
<text x="306.5" y="603" font-size="15.4" text-anchor="middle" fill="#131722">24</text>
<text x="450.5" y="603" font-size="15.4" font-weight="bold" text-anchor="middle" textLength="24.7" lengthAdjust="spacingAndGlyphs" fill="#131722">Oct</text>
<text x="566.5" y="603" font-size="15.4" text-anchor="middle" fill="#131722">7</text>
<text x="682.5" y="603" font-size="15.4" text-anchor="middle" fill="#131722">11</text>
<text x="798.5" y="603" font-size="15.4" text-anchor="middle" fill="#131722">17</text>
<text x="914.5" y="603" font-size="15.4" text-anchor="middle" fill="#131722">23</text>
<text x="1015.2" y="603" font-size="15.4" text-anchor="middle" fill="#131722">12:00</text>
<text x="1116.5" y="603" font-size="15.4" font-weight="bold" text-anchor="middle" textLength="26.5" lengthAdjust="spacingAndGlyphs" fill="#131722">Nov</text>
<text x="1232.5" y="603" font-size="15.4" text-anchor="middle" fill="#131722">7</text>
<text x="22.00" y="38" font-size="15.4" fill="#131722" textLength="122.02" lengthAdjust="spacingAndGlyphs">EUR/USD Spot, 4h</text>
<text x="152.50" y="38" font-size="15.4" fill="#131722">O</text>
<text x="163.50" y="38" font-size="15.4" fill="#f23645" textLength="51.07" lengthAdjust="spacingAndGlyphs">1.07081</text>
<text x="224.00" y="38" font-size="15.4" fill="#131722">H</text>
<text x="235.00" y="38" font-size="15.4" fill="#f23645" textLength="52.58" lengthAdjust="spacingAndGlyphs">1.07189</text>
<text x="296.00" y="38" font-size="15.4" fill="#131722">L</text>
<text x="303.00" y="38" font-size="15.4" fill="#f23645" textLength="53.65" lengthAdjust="spacingAndGlyphs">1.06824</text>
<text x="365.00" y="38" font-size="15.4" fill="#131722">C</text>
<text x="374.00" y="38" font-size="15.4" fill="#f23645" textLength="53.05" lengthAdjust="spacingAndGlyphs">1.06879</text>
<text x="436.50" y="38" font-size="15.4" fill="#f23645" textLength="122.56" lengthAdjust="spacingAndGlyphs">−0.00205 (−0.19%)</text>
<text x="22.00" y="58.9" font-size="15.4" fill="#131722" textLength="113.52" lengthAdjust="spacingAndGlyphs">MA (20, close, 0)</text>
<text x="22.00" y="79.8" font-size="15.4" fill="#131722" textLength="122.02" lengthAdjust="spacingAndGlyphs">MA (100, close, 0)</text>
<text x="22.00" y="100.7" font-size="15.4" fill="#131722" textLength="122.02" lengthAdjust="spacingAndGlyphs">MA (200, close, 0)</text>
<text x="22.00" y="353.5" font-size="15.4" fill="#131722" textLength="107.53" lengthAdjust="spacingAndGlyphs">Mom (10, close)</text>
<text x="141.00" y="353.5" font-size="15.4" fill="#2196f3" textLength="58.63" lengthAdjust="spacingAndGlyphs">−0.01858</text>
<text x="23.00" y="463.5" font-size="15.4" fill="#131722" textLength="50.67" lengthAdjust="spacingAndGlyphs">RSI (14)</text>
<text x="83.00" y="463.5" font-size="15.4" fill="#7e57c2" textLength="36.19" lengthAdjust="spacingAndGlyphs">26.11</text>
<path d="M1247 289H1316a2 2 0 0 1 2 2V308a2 2 0 0 1 -2 2H1247Z" fill="#f23645"/>
<text x="1257.00" y="304.9" font-size="15.5" font-weight="bold" fill="#ffffff" textLength="54.11" lengthAdjust="spacingAndGlyphs">1.06879</text>
<path d="M1247 417H1324a2 2 0 0 1 2 2V436a2 2 0 0 1 -2 2H1247Z" fill="#2196f3"/>
<text x="1257.00" y="432.6" font-size="15.5" font-weight="bold" fill="#ffffff" textLength="61.59" lengthAdjust="spacingAndGlyphs">−0.01858</text>
<path d="M1247 553H1299a2 2 0 0 1 2 2V572a2 2 0 0 1 -2 2H1247Z" fill="#7e57c2"/>
<text x="1257.00" y="568.6" font-size="15.5" font-weight="bold" fill="#ffffff" textLength="36.19" lengthAdjust="spacingAndGlyphs">26.11</text>
<g transform="translate(13 628.3) scale(0.676)" fill="#131722"><path d="M14 22H7V11H0V4h14v18zM28 22h-8l7.5-18h8L28 22z"/><circle cx="20" cy="8" r="4"/></g>
<text x="42.00" y="642.6" font-size="15.4" fill="#131722" textLength="87.09" lengthAdjust="spacingAndGlyphs">TradingView</text>
</svg></body></html>
